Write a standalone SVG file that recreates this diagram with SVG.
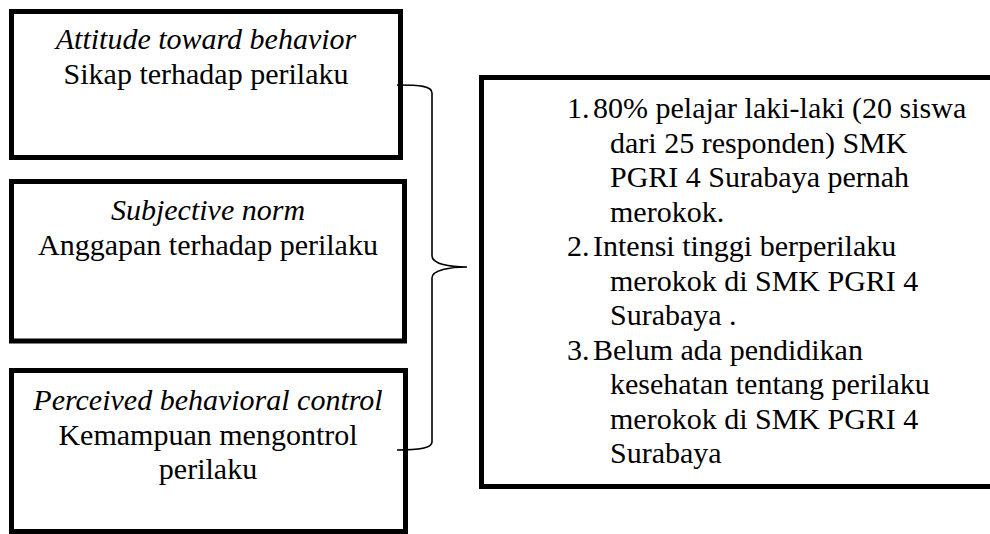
<svg xmlns="http://www.w3.org/2000/svg" width="990" height="534" viewBox="0 0 990 534" font-family="'Liberation Serif', Tinos, 'Times New Roman', 'DejaVu Serif', serif">
<style>
.box{fill:#fff;stroke:#000;stroke-width:5}
text{font-family:'Liberation Serif', Tinos, 'Times New Roman', 'DejaVu Serif', serif;font-size:30px;fill:#000}
.c{text-anchor:middle}
.i{font-style:italic}
.br{fill:none;stroke:#000;stroke-width:1.6}
</style>
<rect width="990" height="534" fill="#fff"/>
<g id="node-attitude">
<rect class="box" x="11.5" y="11.5" width="389" height="146"/>
<text class="c i" x="206" y="49">Attitude toward behavior</text>
<text class="c" x="206" y="83.5">Sikap terhadap perilaku</text>
</g>
<g id="node-subjective">
<rect class="box" x="11.5" y="181.5" width="393" height="159.5"/>
<text class="c i" x="208" y="220">Subjective norm</text>
<text class="c" x="208" y="254.5">Anggapan terhadap perilaku</text>
</g>
<g id="node-perceived">
<rect class="box" x="11.5" y="370.5" width="394" height="161"/>
<text class="c i" x="208" y="410">Perceived behavioral control</text>
<text class="c" x="208" y="444.5">Kemampuan mengontrol</text>
<text class="c" x="208" y="479">perilaku</text>
</g>
<g id="node-findings">
<rect class="box" x="481.5" y="77.5" width="520" height="409"/>
<text x="567" y="118">1.</text>
<text x="593" y="118">80% pelajar laki-laki (20 siswa</text>
<text x="610" y="152.5">dari 25 responden) SMK</text>
<text x="610" y="187">PGRI 4 Surabaya pernah</text>
<text x="610" y="221.5">merokok.</text>
<text x="567" y="256">2.</text>
<text x="593" y="256">Intensi tinggi berperilaku</text>
<text x="610" y="290.5">merokok di SMK PGRI 4</text>
<text x="610" y="325">Surabaya .</text>
<text x="567" y="359.5">3.</text>
<text x="593" y="359.5">Belum ada pendidikan</text>
<text x="610" y="394">kesehatan tentang perilaku</text>
<text x="610" y="428.5">merokok di SMK PGRI 4</text>
<text x="610" y="463">Surabaya</text>
</g>
<g id="connectors">
<path class="br" d="M397,85 C420,85 432,86 432,93 L432,256 C432,264 450,267 467,267 C450,267 432,270 432,278 L432,442 C432,448 420,450 397,450"/>
</g>
</svg>
